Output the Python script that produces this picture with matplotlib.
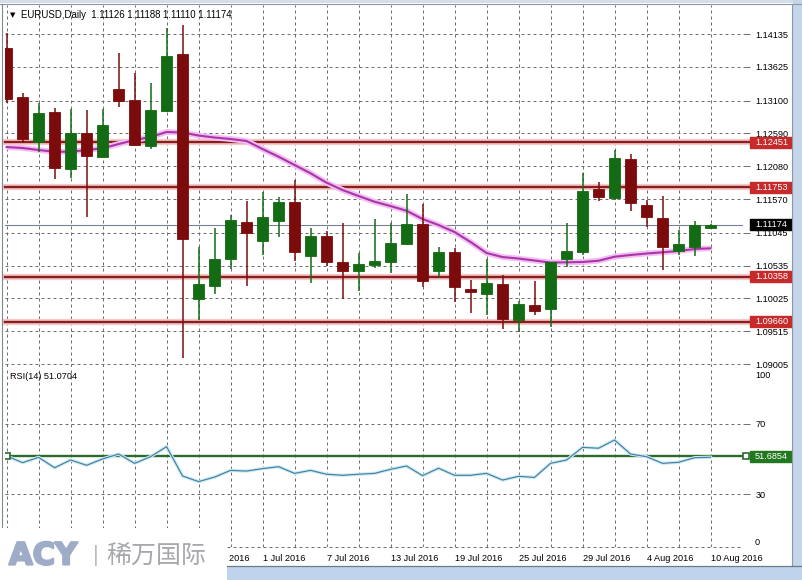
import matplotlib
matplotlib.use("Agg")
import matplotlib.pyplot as plt
import matplotlib.patheffects as pe
from matplotlib.patches import Rectangle
import pandas as pd

plt.rcParams['font.family'] = ['Liberation Sans', 'DejaVu Sans']

# ---- data (EURUSD daily, 9 Jun - 10 Aug 2016) ----
dates = pd.bdate_range('2016-06-09', '2016-08-10')

opens = [1.13913, 1.13151, 1.12461, 1.12918, 1.12032, 1.12591, 1.12218, 1.13275, 1.13109, 1.12394,
         1.12943, 1.13819, 1.10011, 1.10222, 1.10633, 1.11213, 1.10922, 1.11233, 1.11519, 1.10689,
         1.10995, 1.10586, 1.10455, 1.10539, 1.10595, 1.10866, 1.11177, 1.10455, 1.10742, 1.10176,
         1.10093, 1.10244, 1.09689, 1.09922, 1.09855, 1.10633, 1.10742, 1.11721, 1.11590, 1.12192,
         1.11477, 1.11270, 1.10762, 1.10829, 1.11126]
highs = [1.14146, 1.13213, 1.13058, 1.12980, 1.12964, 1.12954, 1.12964, 1.13835, 1.13524, 1.13378,
         1.14224, 1.14275, 1.10829, 1.11115, 1.11321, 1.11539, 1.11684, 1.11596, 1.11865, 1.11115,
         1.11077, 1.11202, 1.10735, 1.11255, 1.11192, 1.11648, 1.11492, 1.10829, 1.10804, 1.10311,
         1.10633, 1.10389, 1.09989, 1.10300, 1.10595, 1.11192, 1.11970, 1.11830, 1.12332, 1.12270,
         1.11555, 1.11617, 1.11088, 1.11228, 1.11188]
lows = [1.13058, 1.12445, 1.12305, 1.11876, 1.11892, 1.11295, 1.12200, 1.13005, 1.12400, 1.12343,
        1.12930, 1.09094, 1.09689, 1.10089, 1.10477, 1.10218, 1.10700, 1.10975, 1.10611, 1.10269,
        1.10529, 1.10011, 1.10145, 1.10493, 1.10415, 1.10850, 1.10207, 1.10362, 1.09974, 1.09803,
        1.09767, 1.09545, 1.09507, 1.09767, 1.09585, 1.10508, 1.10700, 1.11544, 1.11555, 1.11388,
        1.11130, 1.10466, 1.10700, 1.10689, 1.11110]
closes = [1.13125, 1.12498, 1.12902, 1.12047, 1.12591, 1.12243, 1.12716, 1.13098, 1.12410, 1.12954,
          1.13793, 1.10948, 1.10249, 1.10637, 1.11244, 1.11046, 1.11286, 1.11519, 1.10751, 1.10995,
          1.10595, 1.10455, 1.10555, 1.10611, 1.10881, 1.11177, 1.10300, 1.10742, 1.10197, 1.10129,
          1.10260, 1.09705, 1.09938, 1.09834, 1.10586, 1.10762, 1.11695, 1.11606, 1.12212, 1.11503,
          1.11286, 1.10829, 1.10866, 1.11166, 1.11174]
ma = [1.12378, 1.12363, 1.12332, 1.12305, 1.12305, 1.12332, 1.12358, 1.12425, 1.12487, 1.12534,
      1.12612, 1.12604, 1.12557, 1.12526, 1.12503, 1.12472, 1.12347, 1.12228, 1.12099, 1.11970,
      1.11824, 1.11710, 1.11617, 1.11528, 1.11461, 1.11388, 1.11259, 1.11166, 1.11057, 1.10902,
      1.10731, 1.10668, 1.10645, 1.10614, 1.10583, 1.10586, 1.10591, 1.10611, 1.10673, 1.10700,
      1.10723, 1.10742, 1.10762, 1.10793, 1.10804]
rsi = [51.8, 48.0, 51.0, 45.1, 49.5, 46.5, 50.1, 52.9, 47.6, 51.4,
       57.1, 40.4, 37.2, 39.8, 43.6, 43.2, 44.6, 45.7, 41.9, 43.6,
       41.4, 40.8, 41.4, 41.9, 44.2, 46.1, 40.6, 44.8, 40.8, 40.8,
       41.9, 38.1, 40.2, 39.6, 47.6, 49.5, 56.7, 56.2, 60.9, 52.9,
       51.4, 47.6, 48.2, 50.8, 51.07]

levels = [1.12451, 1.11753, 1.10358, 1.09660]
last_price = 1.11174
rsi_level = 51.6854
price_ticks = [1.14135, 1.13625, 1.13100, 1.12590, 1.12080, 1.11570,
               1.11045, 1.10535, 1.10025, 1.09515, 1.09005]
first_date_label = 12   # earlier date labels sit under the logo

W, H = 803, 580
fig = plt.figure(figsize=(W / 100, H / 100), dpi=100)
fig.patch.set_facecolor('white')


def fx(px):
    return px / W


def fy(py):
    return 1 - py / H


ax = fig.add_axes([fx(5), fy(367), fx(743) - fx(5), fy(5) - fy(367)])
ax2 = fig.add_axes([fx(5), fy(547), fx(743) - fx(5), fy(368) - fy(547)])

grid_kw = dict(color='#6e6e6e', lw=0.72, ls=(0, (3, 3)))
xs = list(range(len(dates)))

for a in (ax, ax2):
    a.set_xlim(-0.1, 46.03)
    for s in a.spines.values():
        s.set_visible(False)
    for gx in range(0, 47, 2):
        a.axvline(gx, zorder=0, **grid_kw)
    a.yaxis.tick_right()
    a.tick_params(axis='y', length=5, width=0.7, color='#6e6e6e', pad=4,
                  labelsize=6.6, labelcolor='black')
    a.tick_params(axis='x', length=0)

# ---- main price panel ----
ax.set_ylim(1.08959, 1.14586)
ax.set_yticks(price_ticks)
ax.set_yticklabels(['%.5f' % p for p in price_ticks])
ax.set_xticks([])
for p in price_ticks:
    ax.axhline(p, zorder=0, **grid_kw)

for lv in levels:
    ax.axhline(lv, xmax=1.01, color='#f6c9c9', lw=4.5, zorder=1, clip_on=False)
    ax.axhline(lv, xmax=1.01, color='#8a1e1e', lw=1.7, zorder=2, clip_on=False)
ax.axhline(last_price, color='#7a8096', lw=0.8, zorder=1)

ax.plot(xs, ma, color='#f3bff3', lw=4.2, zorder=2, solid_capstyle='butt')
ax.plot(xs, ma, color='#a936a9', lw=1.5, zorder=3)

bull, bear = '#136b13', '#7c0c0c'
cols = [bull if c >= o else bear for o, c in zip(opens, closes)]
ax.vlines(xs, lows, highs, colors=cols, lw=1.1, zorder=4)
ax.bar(xs, [abs(c - o) for o, c in zip(opens, closes)],
       bottom=[min(o, c) for o, c in zip(opens, closes)],
       width=0.66, color=cols, edgecolor=cols, lw=0.6, zorder=5)

ax.text(5 / 738, 0.972, '\u25bc', transform=ax.transAxes, fontsize=5,
        family='DejaVu Sans', va='center')
ax.text(16.5 / 738, 0.972, 'EURUSD,Daily  1.11126 1.11188 1.11110 1.11174',
        transform=ax.transAxes, fontsize=6.9, va='center')


def label_box(a, y, txt, fc, px_h=11):
    y0, y1 = a.get_ylim()
    h = px_h * (y1 - y0) / (a.bbox.height)
    tr = a.get_yaxis_transform()
    a.add_patch(Rectangle((1 + 7 / 738, y - h / 2), 42 / 738, h, transform=tr,
                          facecolor=fc, edgecolor=fc, clip_on=False, zorder=6))
    a.text(1 + 12 / 738, y, txt, transform=tr, color='white', fontsize=6.6,
           va='center', ha='left', zorder=7, clip_on=False)


for lv in levels:
    label_box(ax, lv, '%.5f' % lv, '#c62a2a')
label_box(ax, last_price, '%.5f' % last_price, '#000000')

# ---- RSI panel ----
ax2.set_ylim(0, 101.85)
ax2.set_yticks([70, 30])
ax2.set_yticklabels(['70', '30'])
for lv in (70, 30):
    ax2.axhline(lv, zorder=0, **grid_kw)
ax2.axhline(0, clip_on=False, zorder=0, **grid_kw)
ax2.text(1 + 12 / 738, 100, '100', transform=ax2.get_yaxis_transform(),
         fontsize=6.6, va='top', ha='left', clip_on=False)
ax2.text(1 + 12 / 738, 0, '0', transform=ax2.get_yaxis_transform(),
         fontsize=6.6, va='bottom', ha='left', clip_on=False)

ax2.axhline(rsi_level, color='#2d6a2d', lw=1.7, zorder=2)
ax2.plot([0], [rsi_level], marker='s', ms=4, mfc='white', mec='#2d6a2d', mew=1.2, zorder=5)
ax2.plot([1 + 3 / 738], [rsi_level], marker='s', ms=4, mfc='white', mec='#2d6a2d', mew=1.2,
         transform=ax2.get_yaxis_transform(), clip_on=False, zorder=5)
ax2.plot(xs, rsi, color='#c8ecf3', lw=2.4, zorder=3)
ax2.plot(xs, rsi, color='#4a7ea3', lw=0.85, zorder=4)
label_box(ax2, rsi_level, '%.4f' % rsi_level, '#23781f')
ax2.text(5 / 738, 0.95, 'RSI(14) 51.0704', transform=ax2.transAxes, fontsize=6.6, va='center')

tick_pos = list(range(0, 47, 2))
tick_lab = []
for t in tick_pos:
    if t % 4 == 0 and first_date_label <= t < len(dates):
        d = dates[t]
        tick_lab.append('%d %s' % (d.day, d.strftime('%b %Y')))
    else:
        tick_lab.append('')
ax2.set_xticks(tick_pos)
ax2.set_xticklabels(tick_lab, fontsize=6.6, ha='left')
ax2.tick_params(axis='x', pad=5)

# ---- window frame ----
fig.add_artist(Rectangle((0, fy(3)), 1, fy(0) - fy(3), transform=fig.transFigure,
                         facecolor='#d5dde8', edgecolor='none'))
fig.add_artist(plt.Line2D([fx(0), fx(803)], [fy(3.5), fy(3.5)], transform=fig.transFigure,
                          color='#8e96a3', lw=0.8))
fig.add_artist(plt.Line2D([fx(2.5), fx(2.5)], [fy(3.5), fy(566)], transform=fig.transFigure,
                          color='#7f8792', lw=0.8))
fig.add_artist(Rectangle((fx(793), 0), fx(10), 1, transform=fig.transFigure,
                         facecolor='#c6d6ea', edgecolor='none'))
fig.add_artist(plt.Line2D([fx(792.5), fx(792.5)], [fy(3.5), fy(566)], transform=fig.transFigure,
                          color='#8e96a3', lw=0.8))
fig.add_artist(Rectangle((0, 0), 1, fy(566), transform=fig.transFigure,
                         facecolor='#bfd3ec', edgecolor='none'))
fig.add_artist(plt.Line2D([fx(0), fx(803)], [fy(566), fy(566)], transform=fig.transFigure,
                          color='#6d7a8c', lw=0.9))

# ---- watermark ----
fig.add_artist(Rectangle((0, 0), fx(227), fy(528), transform=fig.transFigure,
                         facecolor='white', edgecolor='none', zorder=10))
fig.text(fx(9), fy(556), 'ACY', fontsize=22, fontweight='heavy', family='DejaVu Sans',
         color='#9eacc7', va='center', ha='left', zorder=11,
         path_effects=[pe.withStroke(linewidth=1.6, foreground='#9eacc7')])
fig.text(fx(96), fy(556), '|', fontsize=16, color='#b6bcc6', va='center', ha='center', zorder=11)
fig.text(fx(106), fy(556), '稀万国际', fontsize=18, family=['Noto Sans CJK SC', 'DejaVu Sans'],
         color='#a6a8ae', va='center', ha='left', zorder=11)

fig.savefig('out.png', dpi=100)
